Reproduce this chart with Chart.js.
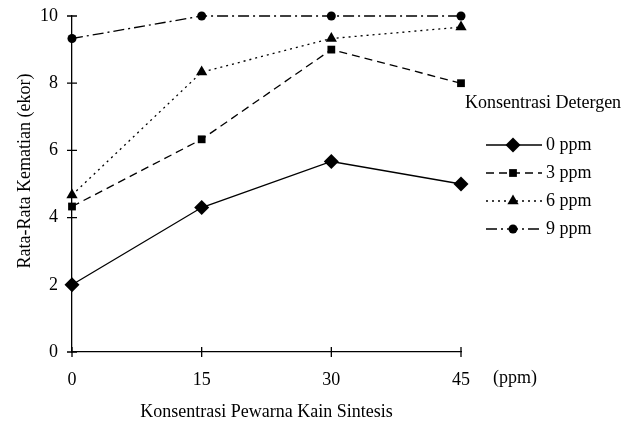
<!DOCTYPE html>
<html>
<head>
<meta charset="utf-8">
<script src="https://cdn.jsdelivr.net/npm/chart.js@4/dist/chart.umd.min.js"></script>
<style>
  body { margin: 0; background: #fff; }
  #wrap { width: 638px; height: 423px; }
</style>
</head>
<body>
<div id="wrap"><canvas id="chart" width="638" height="423"></canvas></div>
<script>
const xValues = [0, 15, 30, 45];
const seriesLabels = ['0 ppm', '3 ppm', '6 ppm', '9 ppm'];
const ppm0 = [2, 4.3, 5.67, 5];
const ppm3 = [4.33, 6.33, 9, 8];
const ppm6 = [4.67, 8.33, 9.33, 9.67];
const ppm9 = [9.33, 10, 10, 10];

const FONT = '"Liberation Serif", "Times New Roman", serif';
const FSIZE = 18;

const toPoints = vals => vals.map((v, i) => ({ x: xValues[i], y: v }));

const styles = [
    { pointStyle: 'rectRot', pointRadius: 7.5, borderDash: [] },
    { pointStyle: 'rect', pointRadius: 5.5, borderDash: [8, 5] },
    { pointStyle: 'triangle', pointRadius: 6.5, borderDash: [2, 4] },
    { pointStyle: 'circle', pointRadius: 4.5, borderDash: [11, 4, 2, 4] }
];

const datasets = [ppm0, ppm3, ppm6, ppm9].map((vals, i) => ({
    label: seriesLabels[i],
    data: toPoints(vals),
    borderColor: '#000',
    backgroundColor: '#000',
    borderWidth: 1.3,
    borderDash: styles[i].borderDash,
    pointStyle: styles[i].pointStyle,
    pointRadius: styles[i].pointRadius,
    pointBorderWidth: 0,
    pointBackgroundColor: '#000',
    clip: false,
    tension: 0
}));

// tick marks crossing the axes, y title, legend on the right, "(ppm)" unit label
const extras = {
    id: 'extras',
    afterDraw(chart) {
        const ctx = chart.ctx;
        const xs = chart.scales.x;
        const ys = chart.scales.y;
        ctx.save();
        ctx.strokeStyle = '#000';
        ctx.lineWidth = 1.3;
        ctx.beginPath();
        xValues.forEach(v => {
            const px = xs.getPixelForValue(v);
            ctx.moveTo(px, ys.bottom - 5);
            ctx.lineTo(px, ys.bottom + 5);
        });
        for (let v = 0; v <= 10; v += 2) {
            const py = ys.getPixelForValue(v);
            ctx.moveTo(xs.left - 5, py);
            ctx.lineTo(xs.left + 5, py);
        }
        ctx.stroke();

        ctx.fillStyle = '#000';
        ctx.font = FSIZE + 'px ' + FONT;
        ctx.textBaseline = 'middle';
        ctx.textAlign = 'center';
        ctx.save();
        ctx.translate(25, 171);
        ctx.rotate(-Math.PI / 2);
        ctx.fillText('Rata-Rata Kematian (ekor)', 0, 0);
        ctx.restore();

        ctx.textAlign = 'left';
        ctx.fillText('(ppm)', 493, 378);
        ctx.fillText('Konsentrasi Detergen', 465, 103);

        chart.data.datasets.forEach((ds, i) => {
            const y = 145 + i * 28;
            ctx.beginPath();
            ctx.setLineDash(ds.borderDash);
            ctx.lineWidth = ds.borderWidth;
            ctx.moveTo(486, y);
            ctx.lineTo(542, y);
            ctx.stroke();
            ctx.setLineDash([]);
            Chart.helpers.drawPoint(ctx, {
                pointStyle: ds.pointStyle,
                radius: ds.pointRadius,
                rotation: 0,
                borderWidth: 0
            }, 513, y);
            ctx.fillText(ds.label, 546, y);
        });
        ctx.restore();
    }
};

new Chart(document.getElementById('chart'), {
    type: 'line',
    data: { datasets: datasets },
    options: {
        responsive: false,
        animation: false,
        devicePixelRatio: 1,
        layout: { padding: { left: 0, top: 16, right: 177, bottom: 0 } },
        plugins: {
            legend: { display: false },
            tooltip: { enabled: false }
        },
        scales: {
            x: {
                type: 'linear',
                min: 0,
                max: 45,
                grid: { display: false },
                border: { display: true, color: '#000', width: 1.3 },
                ticks: {
                    stepSize: 15,
                    padding: 9,
                    color: '#000',
                    font: { family: FONT, size: FSIZE }
                },
                title: {
                    display: true,
                    text: 'Konsentrasi Pewarna Kain Sintesis',
                    color: '#000',
                    font: { family: FONT, size: FSIZE },
                    padding: { top: 12, bottom: 0 }
                },
                afterFit(scale) {
                    scale.height = 71;
                    scale.paddingLeft = 0;
                    scale.paddingRight = 0;
                }
            },
            y: {
                min: 0,
                max: 10,
                grid: { display: false },
                border: { display: true, color: '#000', width: 1.3 },
                ticks: {
                    stepSize: 2,
                    padding: 6,
                    color: '#000',
                    font: { family: FONT, size: FSIZE }
                },
                afterFit(scale) {
                    scale.width = 72;
                    scale.paddingTop = 0;
                    scale.paddingBottom = 0;
                }
            }
        }
    },
    plugins: [extras]
});
</script>
</body>
</html>
